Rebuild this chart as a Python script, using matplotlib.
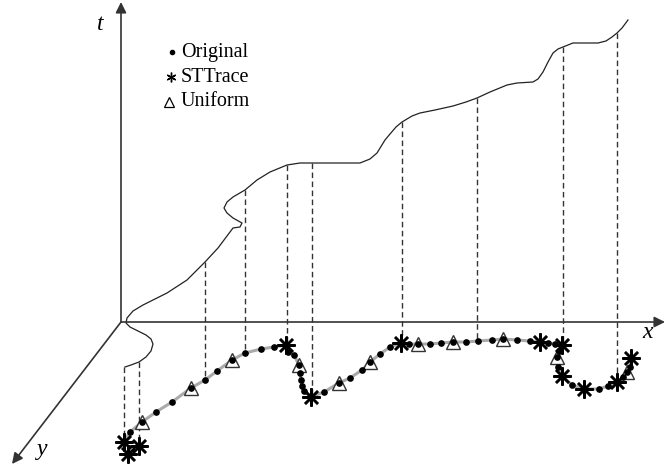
import numpy as np
import matplotlib
matplotlib.use("Agg")
import matplotlib.pyplot as plt

# everything is in picture coordinates (x to the right, y downwards)
origin = (121, 322)
t_end = (121, 2)
x_end = (665, 322)
y_end = (12, 464)

# t(x) curve drawn above the x axis
curve_x = [125, 131, 139, 146, 151, 153, 151, 146, 138, 130, 126, 127, 133, 143, 155, 167,
           187, 205, 218, 233, 240, 242, 233, 227, 224, 227, 233, 245, 257, 270, 287, 300,
           312, 360, 370, 377, 385, 390, 396, 402, 412, 420, 435, 453, 466, 477, 490, 507,
           517, 533, 538, 543, 548, 553, 558, 563, 573, 598, 606, 612, 617, 622, 628]
curve_y = [367, 365, 362, 357, 351, 344, 339, 335, 331, 327, 323, 318, 311, 305, 299, 293,
           280, 262, 248, 228, 227, 223, 218, 213, 208, 202, 197, 190, 180, 172, 165, 163,
           163, 163, 159, 153, 140, 134, 127, 122, 116, 113, 110, 106, 102, 98, 92, 85,
           83, 82, 79, 72, 62, 53, 49, 47, 43, 43, 41, 37, 33, 28, 20]

# original trajectory points in the x-y plane
orig_x = [124, 130, 142, 156, 172, 191, 205, 217, 232, 245, 261, 274, 286, 288, 294, 299,
          300, 301, 302, 304, 311, 324, 339, 350, 362, 370, 380, 390, 401, 409, 418, 430,
          441, 453, 466, 478, 492, 503, 517, 530, 540, 548, 555, 562, 559, 557, 558, 562,
          572, 584, 599, 608, 617, 623, 627, 630, 631]
orig_y = [442, 432, 422, 412, 402, 388, 380, 371, 360, 353, 349, 347, 345, 352, 355, 365,
          373, 380, 386, 391, 397, 392, 383, 378, 370, 362, 354, 347, 343, 344, 344, 344,
          343, 342, 342, 341, 340, 339, 340, 341, 342, 343, 344, 345, 351, 357, 367, 376,
          385, 389, 389, 386, 382, 377, 372, 367, 358]

# STTrace samples
st_x = [124, 128, 139, 286, 311, 401, 540, 562, 562, 584, 617, 631]
st_y = [442, 454, 446, 345, 397, 343, 342, 345, 376, 389, 382, 358]

# Uniform samples
uni_x = [142, 191, 232, 299, 339, 370, 418, 453, 503, 557, 627]
uni_y = [422, 388, 360, 365, 383, 362, 344, 342, 339, 357, 372]

# projections from the curve down to the trajectory
drop_x = [124, 139, 205, 245, 287, 312, 402, 477, 563, 617]
drop_top = [367, 362, 262, 190, 165, 163, 122, 98, 47, 33]
drop_bottom = [442, 446, 380, 353, 345, 397, 343, 341, 345, 382]

serif = ["Liberation Serif", "DejaVu Serif"]

fig = plt.figure(figsize=(6.65, 4.67), dpi=100)
ax = fig.add_axes([0, 0, 1, 1])
ax.set_xlim(0, 665)
ax.set_ylim(467, 0)
ax.axis("off")

# axes of the sketch
arrow = dict(arrowstyle="-|>", color="#333333", lw=1.2, mutation_scale=16,
             shrinkA=0, shrinkB=0)
for end in (t_end, x_end, y_end):
    ax.annotate("", xy=end, xytext=origin, arrowprops=arrow)

ax.text(100, 25, "t", fontsize=17, style="italic", family=serif, ha="center", va="center")
ax.text(648, 333, "x", fontsize=17, style="italic", family=serif, ha="center", va="center")
ax.text(42, 450, "y", fontsize=17, style="italic", family=serif, ha="center", va="center")

ax.plot(curve_x, curve_y, color="#222222", lw=0.9, solid_joinstyle="round")

for xx, y0, y1 in zip(drop_x, drop_top, drop_bottom):
    ax.plot([xx, xx], [y0, y1], color="#333333", lw=1.0, ls=(0, (4, 2.5)))

ax.plot(orig_x, orig_y, color="#aaaaaa", lw=2.2, zorder=2, solid_joinstyle="round")
ax.plot(uni_x, uni_y, ls="none", marker="^", ms=10, mfc="white", mec="#333333",
        mew=1.0, zorder=3)
ax.plot(orig_x, orig_y, ls="none", marker="o", ms=3.8, color="black", zorder=4)
ax.plot(st_x, st_y, ls="none", marker=(8, 2, 0), ms=13, mec="black", mew=1.8, zorder=5)

# legend
leg_y = [52, 77, 101]
leg_labels = ["Original", "STTrace", "Uniform"]
ax.plot(172, leg_y[0], marker="o", ms=3, color="black", ls="none")
ax.plot(171, leg_y[1], marker=(6, 2, 0), ms=7, mec="black", mew=1.0, ls="none")
ax.plot(169, leg_y[2] + 1, marker="^", ms=7, mfc="none", mec="black", mew=0.9, ls="none")
for yy, lab in zip(leg_y, leg_labels):
    ax.text(181, yy, lab, fontsize=14.5, family=serif, ha="left", va="center")

fig.savefig("out.png", dpi=100)
